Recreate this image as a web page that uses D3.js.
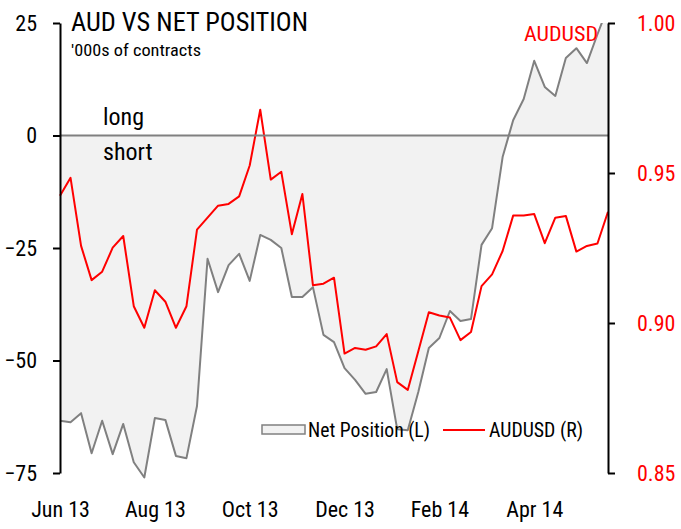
<!DOCTYPE html>
<html>
<head>
<meta charset="utf-8">
<script src="https://cdn.jsdelivr.net/npm/d3@7"></script>
<style>
  html, body { margin: 0; padding: 0; background: #fff; }
  svg { display: block; }
  text { font-family: "Liberation Sans Narrow", "Arial Narrow", "Roboto Condensed", "Noto Sans", sans-serif; }
</style>
</head>
<body>
<svg id="chart" width="681" height="529"></svg>
<script>
// Weekly categories (COT report weeks), Jun 2013 - Jun 2014 (53 weeks)
const firstWeek = new Date(2013, 5, 4);
const categories = d3.range(53).map(i => d3.timeFormat("%Y-%m-%d")(d3.timeDay.offset(firstWeek, 7 * i)));
const xTickLabels = ["Jun 13", "Aug 13", "Oct 13", "Dec 13", "Feb 14", "Apr 14"];
const xTickEvery = 9;

// Net position, '000s of contracts (left axis)
const netPosition = [
  -63.4, -63.7, -61.7, -70.6, -63.4, -70.8, -64.1, -72.6, -76.0, -62.8,
  -63.2, -71.2, -71.7, -60.1, -27.4, -34.8, -28.8, -26.3, -32.3, -22.1,
  -23.2, -25.0, -35.9, -35.9, -33.7, -44.3, -45.9, -51.7, -54.3, -57.4,
  -57.0, -51.9, -65.3, -65.5, -57.0, -47.2, -45.0, -39.0, -41.2, -40.8,
  -24.3, -20.6, -4.8, 3.4, 8.1, 16.6, 10.8, 8.8, 17.2, 19.4,
  16.1, 22.5, 28.6
];
// AUDUSD (right axis)
const audusd = [
  0.9424, 0.9484, 0.9257, 0.9143, 0.9171, 0.9251, 0.9290, 0.9056, 0.8984, 0.9109,
  0.9071, 0.8984, 0.9056, 0.9311, 0.9351, 0.9391, 0.9397, 0.9422, 0.9525, 0.9711,
  0.9478, 0.9504, 0.9296, 0.9430, 0.9126, 0.9131, 0.9151, 0.8898, 0.8917, 0.8911,
  0.8922, 0.8963, 0.8803, 0.8777, 0.8906, 0.9036, 0.9025, 0.9018, 0.8943, 0.8970,
  0.9123, 0.9162, 0.9240, 0.9358, 0.9358, 0.9363, 0.9266, 0.9351, 0.9357, 0.9238,
  0.9257, 0.9265, 0.9371
];
const leftTicks = [25, 0, -25, -50, -75];
const rightTicks = [1.00, 0.95, 0.90, 0.85];

const svg = d3.select("#chart");
const pL = 60, pR = 608, pT = 23, pB = 473;

const x = d3.scalePoint().domain(categories).range([pL, pR]);
const yL = d3.scaleLinear().domain([-75, 25]).range([pB, pT]);
const yR = d3.scaleLinear().domain([0.85, 1.00]).range([pB, pT]);

svg.append("defs").append("clipPath").attr("id", "clip")
  .append("rect").attr("x", pL - 2).attr("y", pT).attr("width", pR - pL + 4).attr("height", 529 - pT);

const plot = svg.append("g").attr("clip-path", "url(#clip)");

const area = d3.area()
  .x((d, i) => x(categories[i]))
  .y0(yL(0))
  .y1(d => yL(d));
plot.append("path").datum(netPosition)
  .attr("d", area).attr("fill", "#f2f2f2");

// zero line
svg.append("line")
  .attr("x1", pL).attr("x2", pR)
  .attr("y1", yL(0)).attr("y2", yL(0))
  .attr("stroke", "#808080").attr("stroke-width", 2);

plot.append("path").datum(netPosition)
  .attr("d", d3.line().x((d, i) => x(categories[i])).y(d => yL(d)))
  .attr("fill", "none").attr("stroke", "#808080").attr("stroke-width", 2)
  .attr("stroke-linejoin", "round");

plot.append("path").datum(audusd)
  .attr("d", d3.line().x((d, i) => x(categories[i])).y(d => yR(d)))
  .attr("fill", "none").attr("stroke", "#ff0000").attr("stroke-width", 2)
  .attr("stroke-linejoin", "round");

// Left axis
const gL = svg.append("g").attr("transform", `translate(${pL},0)`)
  .call(d3.axisLeft(yL).tickValues(leftTicks).tickSize(7).tickSizeOuter(0).tickPadding(16).tickFormat(d3.format("d")));
gL.select(".domain").attr("stroke", "#000").attr("stroke-width", 2);
gL.selectAll(".tick line").attr("stroke", "#000").attr("stroke-width", 2);
gL.selectAll(".tick text").attr("fill", "#000").style("font-size", "22px");

// Right axis
const gR = svg.append("g").attr("transform", `translate(${pR},0)`)
  .call(d3.axisRight(yR).tickValues(rightTicks).tickSize(7).tickSizeOuter(0).tickPadding(22).tickFormat(d3.format(".2f")));
gR.select(".domain").attr("stroke", "#000").attr("stroke-width", 2);
gR.selectAll(".tick line").attr("stroke", "#000").attr("stroke-width", 2);
gR.selectAll(".tick text").attr("fill", "#ff0000").style("font-size", "22px");

// Bottom labels
const tickCats = xTickLabels.map((l, i) => categories[i * xTickEvery]);
const gB = svg.append("g").attr("transform", `translate(0,${pB})`)
  .call(d3.axisBottom(x).tickValues(tickCats).tickSize(0).tickPadding(28)
    .tickFormat((d, i) => xTickLabels[i]));
gB.select(".domain").remove();
gB.selectAll(".tick text").attr("fill", "#000").style("font-size", "22px");

// Titles and annotations
svg.append("text").attr("x", 71).attr("y", 31).text("AUD VS NET POSITION")
  .style("font-size", "25px").attr("fill", "#000")
  .attr("textLength", 237).attr("lengthAdjust", "spacingAndGlyphs");
svg.append("text").attr("x", 71).attr("y", 56).text("'000s of contracts")
  .style("font-size", "17px").attr("fill", "#000")
  .attr("textLength", 130).attr("lengthAdjust", "spacingAndGlyphs");
svg.append("text").attr("x", 103).attr("y", 125).text("long")
  .style("font-size", "24px").attr("fill", "#000");
svg.append("text").attr("x", 103).attr("y", 160).text("short")
  .style("font-size", "24px").attr("fill", "#000");
svg.append("text").attr("x", 524).attr("y", 41).text("AUDUSD")
  .style("font-size", "21px").attr("fill", "#ff0000")
  .attr("textLength", 74).attr("lengthAdjust", "spacingAndGlyphs");

// Legend
const lg = svg.append("g");
lg.append("rect").attr("x", 262).attr("y", 425).attr("width", 43).attr("height", 9)
  .attr("fill", "#f2f2f2").attr("stroke", "#808080").attr("stroke-width", 1.5);
lg.append("text").attr("x", 308).attr("y", 437).text("Net Position (L)")
  .style("font-size", "20px").attr("fill", "#000")
  .attr("textLength", 122).attr("lengthAdjust", "spacingAndGlyphs");
lg.append("line").attr("x1", 443).attr("x2", 485).attr("y1", 430).attr("y2", 430)
  .attr("stroke", "#ff0000").attr("stroke-width", 2);
lg.append("text").attr("x", 489).attr("y", 437).text("AUDUSD (R)")
  .style("font-size", "20px").attr("fill", "#000")
  .attr("textLength", 94).attr("lengthAdjust", "spacingAndGlyphs");
</script>
</body>
</html>
